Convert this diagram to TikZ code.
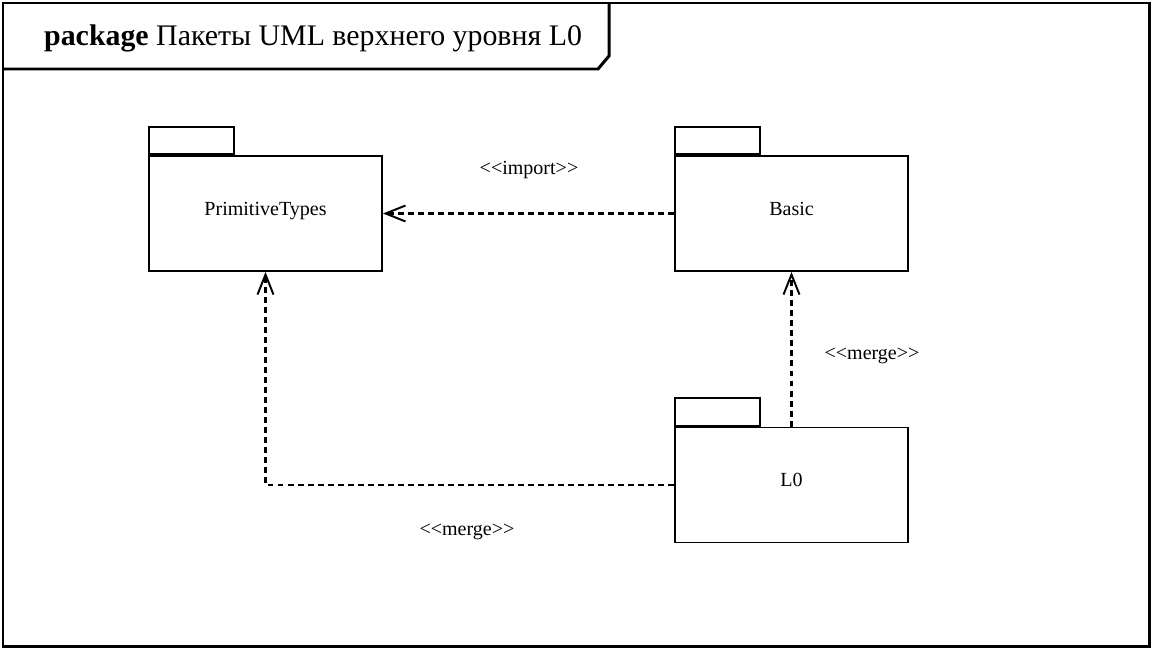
\documentclass[tikz,border=0pt]{standalone}
\usepackage{fontspec}
\setmainfont{Liberation Serif}
\usetikzlibrary{arrows.meta,positioning}
\definecolor{UMLInk}{HTML}{000000}
\definecolor{UMLPaper}{HTML}{FFFFFF}
\tikzset{
  frame/.style={draw=UMLInk,line width=1.7pt},
  pkgbody/.style={draw=UMLInk,line width=1.1pt,fill=UMLPaper,minimum width=4.66cm,
                  minimum height=2.3cm,inner sep=0pt,align=center,text depth=0.2cm,
                  font=\fontsize{11.4}{13}\selectfont},
  pkgtab/.style={draw=UMLInk,line width=1.1pt,fill=UMLPaper,minimum width=1.7cm,
                 minimum height=0.55cm,inner sep=0pt},
  dep/.style={-{Straight Barb[length=0.4cm,width=0.32cm,line width=1.1pt]},
              UMLInk,line width=1.2pt,dash pattern=on 3.4pt off 2.3pt},
  stereo/.style={text=UMLInk,font=\fontsize{11.4}{13}\selectfont},
  heading/.style={text=UMLInk,font=\fontsize{17}{20}\selectfont,anchor=west},
}

\begin{document}
\begin{tikzpicture}[x=0.02cm,y=-0.02cm]
    \useasboundingbox (0,0) rectangle (1152,649);
    % diagram frame with its name tab
    \draw[frame] (3,3) rectangle (1149,646);
    \draw[frame] (3,69) -- (598,69) -- (609,56) -- (609,3);
    \node[heading] (title) at (38,38) {\textbf{package} Пакеты UML верхнего уровня L0};

    % packages
    \node[pkgbody] (primitive) at (265.5,213.5) {PrimitiveTypes};
    \node[pkgtab,anchor=south west] (primitivetab) at (primitive.north west) {};
    \node[pkgbody] (basic) at (791.5,213.5) {Basic};
    \node[pkgtab,anchor=south west] (basictab) at (basic.north west) {};
    \node[pkgbody] (lzero) at (791.5,485) {L0};
    \node[pkgtab,anchor=south west] (lzerotab) at (lzero.north west) {};

    % dependencies
    \draw[dep] (basic.west) -- (primitive.east);
    \draw[dep] (lzero.north) -- (basic.south);
    \draw[dep] (lzero.west) -| (primitive.south);
    \node[stereo] (importlbl) at (529,170) {<{}<import>{}>};
    \node[stereo] (mergeup) at (872,356) {<{}<merge>{}>};
    \node[stereo] (mergeleft) at (467,532) {<{}<merge>{}>};
\end{tikzpicture}
\end{document}
